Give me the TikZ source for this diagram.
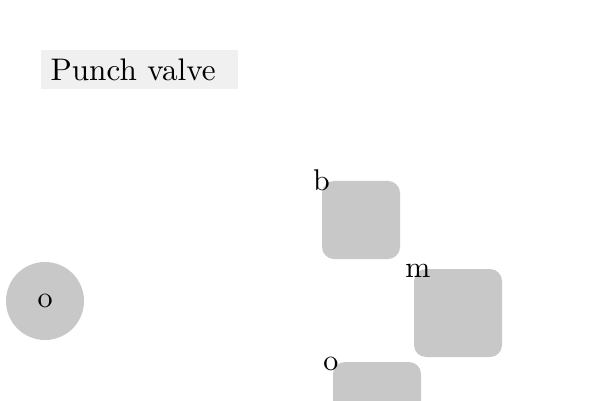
\documentclass[tikz,border=0pt]{standalone}
\usepackage{tikz}

\definecolor{boxgray}{HTML}{C8C8C8}
\definecolor{titlegray}{HTML}{F0F0F0}
\tikzset{
  valvebox/.style={fill=boxgray, rounded corners=4pt, inner sep=0pt},
  portcircle/.style={circle, fill=boxgray, inner sep=0pt, minimum size=26pt},
  tag/.style={inner sep=0pt},
}

\begin{document}
\begin{tikzpicture}[x=0.3333pt, y=-0.3333pt]
            \useasboundingbox (0, 0) rectangle (600, 400);
            \clip (0, 0) rectangle (600, 400);

            \node[fill=titlegray, anchor=west, inner xsep=3.33pt, inner ysep=0pt,
                  minimum height=13pt, text width=59pt, align=left,
                  font=\fontsize{10.4}{12}\selectfont] (title) at (40, 69.5) {Punch valve};

            \node[portcircle] (port) at (45, 301) {o};

            \node[valvebox, minimum size=26pt] (b) at (361, 220) {};
            \node[valvebox, minimum size=29.33pt] (m) at (458, 313) {};
            \node[valvebox, minimum size=29.33pt] (o) at (377, 406) {};

            \node[tag] (bl) at (b.north west) {b};
            \node[tag, xshift=1.5pt, yshift=-0.7pt] (ml) at (m.north west) {m};
            \node[tag, xshift=-0.5pt, yshift=-0.8pt] (ol) at (o.north west) {o};
\end{tikzpicture}
\end{document}
